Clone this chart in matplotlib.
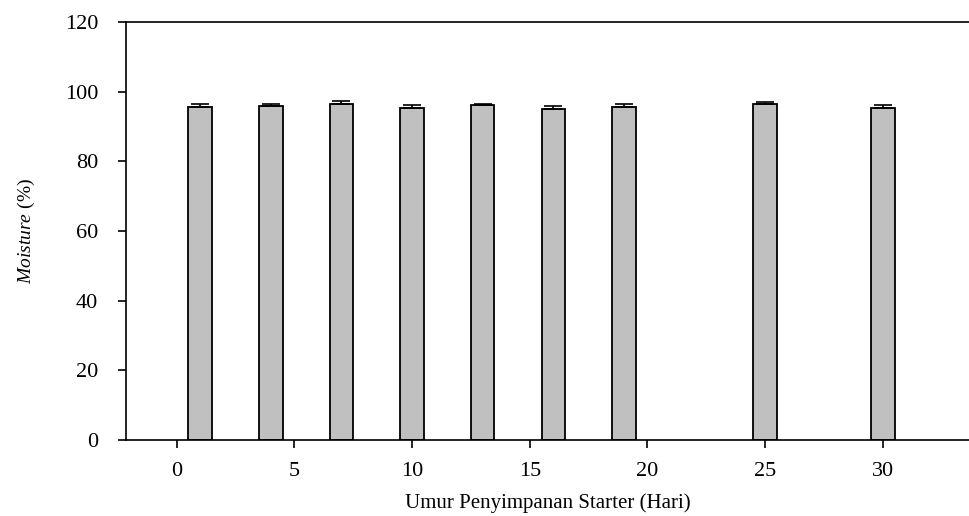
import matplotlib
matplotlib.use("Agg")
import matplotlib.pyplot as plt

days = [1, 4, 7, 10, 13, 16, 19, 25, 30]
moisture = [95.7, 95.9, 96.6, 95.4, 96.2, 95.0, 95.7, 96.6, 95.3]
err = [0.8, 0.7, 0.6, 0.7, 0.4, 0.9, 0.7, 0.4, 0.9]
xticks = [0, 5, 10, 15, 20, 25, 30]
yticks = [0, 20, 40, 60, 80, 100, 120]

plt.rcParams['font.family'] = ['Liberation Serif', 'DejaVu Serif']
plt.rcParams['mathtext.fontset'] = 'custom'
plt.rcParams['mathtext.rm'] = 'Liberation Serif'
plt.rcParams['mathtext.it'] = 'Liberation Serif:italic'

fig = plt.figure(figsize=(9.7, 5.16), dpi=100)
ax = fig.add_axes([126/970, 1-440/516, 1-126/970, (440-22)/516])

ax.bar(days, moisture, width=1.0, color='#c0c0c0', edgecolor='black', linewidth=1.3,
       yerr=[[0]*len(err), err], error_kw=dict(ecolor='black', elinewidth=1.2, capsize=6.5, capthick=1.2))

ax.set_xlim(-2.15, 33.7)
ax.set_ylim(0, 120)
ax.set_xticks(xticks)
ax.set_yticks(yticks)
ax.spines['right'].set_visible(False)
for s in ['top', 'bottom', 'left']:
    ax.spines[s].set_linewidth(1.2)
ax.tick_params(direction='out', length=6, width=1.2, labelsize=16)
ax.tick_params(axis='y', pad=14)
ax.tick_params(axis='x', pad=10)

ax.set_xlabel('Umur Penyimpanan Starter (Hari)', fontsize=15, labelpad=9)
ax.set_ylabel(r'$\it{Moisture}$ (%)', fontsize=14, labelpad=20)

fig.savefig('out.png', dpi=100)
